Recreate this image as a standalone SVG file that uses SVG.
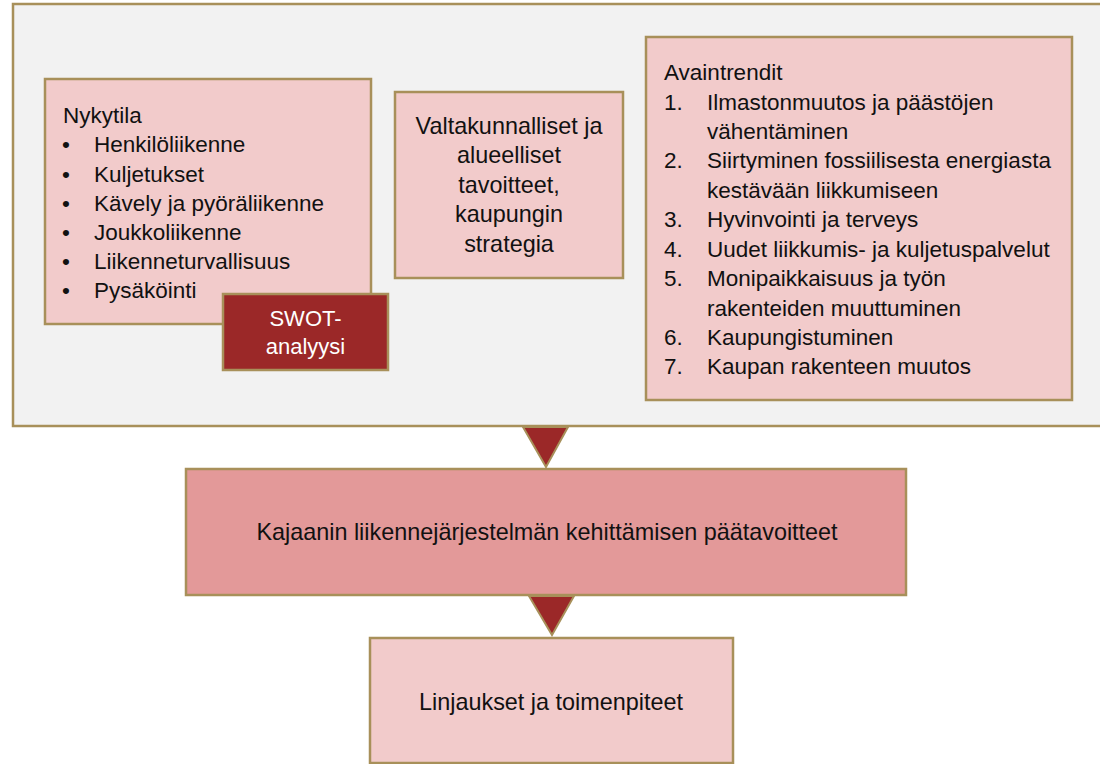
<svg xmlns="http://www.w3.org/2000/svg" width="1100" height="764" viewBox="0 0 1100 764">
<style>
.box{fill:#f2cbcb;stroke:#a8905a;stroke-width:2.5}
.t{font-family:"Liberation Sans",Arial,sans-serif;font-size:22.5px;fill:#111}
.l{font-size:23.4px}
.c{text-anchor:middle}
.w{fill:#ffffff;font-size:22px}
.tri{fill:#9b2828;stroke:#a8905a;stroke-width:2}
</style>
<rect width="1100" height="764" fill="#ffffff"/>
<g id="outer">
<rect x="13" y="4" width="1100" height="422" fill="#f2f2f2" stroke="#a8905a" stroke-width="2.5"/>
</g>
<g id="nykytila">
<rect class="box" x="45" y="79" width="326" height="245"/>
<text class="t" x="63" y="123">Nykytila</text>
<g class="t">
<text x="62" y="152">•</text><text class="t" x="94" y="152">Henkilöliikenne</text>
<text x="62" y="182">•</text><text class="t" x="94" y="182">Kuljetukset</text>
<text x="62" y="211">•</text><text class="t" x="94" y="211">Kävely ja pyöräliikenne</text>
<text x="62" y="240">•</text><text class="t" x="94" y="240">Joukkoliikenne</text>
<text x="62" y="269">•</text><text class="t" x="94" y="269">Liikenneturvallisuus</text>
<text x="62" y="298">•</text><text class="t" x="94" y="298">Pysäköinti</text>
</g>
</g>
<g id="swot">
<rect x="223" y="294" width="165" height="76" fill="#9b2828" stroke="#a8905a" stroke-width="2.5"/>
<text class="t c w" x="305.5" y="326">SWOT-</text>
<text class="t c w" x="305.5" y="354">analyysi</text>
</g>
<g id="tavoitteet">
<rect class="box" x="395" y="92" width="228" height="186"/>
<text class="t l c" x="509" y="134">Valtakunnalliset ja</text>
<text class="t l c" x="509" y="163">alueelliset</text>
<text class="t l c" x="509" y="193">tavoitteet,</text>
<text class="t l c" x="509" y="222">kaupungin</text>
<text class="t l c" x="509" y="252">strategia</text>
</g>
<g id="avaintrendit">
<rect class="box" x="646" y="37" width="426" height="363"/>
<text class="t" x="664" y="80">Avaintrendit</text>
<text class="t" x="664" y="110">1.</text><text class="t" x="707" y="110">Ilmastonmuutos ja päästöjen</text>
<text class="t" x="707" y="139">vähentäminen</text>
<text class="t" x="664" y="168">2.</text><text class="t" x="707" y="168">Siirtyminen fossiilisesta energiasta</text>
<text class="t" x="707" y="198">kestävään liikkumiseen</text>
<text class="t" x="664" y="227">3.</text><text class="t" x="707" y="227">Hyvinvointi ja terveys</text>
<text class="t" x="664" y="257">4.</text><text class="t" x="707" y="257">Uudet liikkumis- ja kuljetuspalvelut</text>
<text class="t" x="664" y="286">5.</text><text class="t" x="707" y="286">Monipaikkaisuus ja työn</text>
<text class="t" x="707" y="316">rakenteiden muuttuminen</text>
<text class="t" x="664" y="345">6.</text><text class="t" x="707" y="345">Kaupungistuminen</text>
<text class="t" x="664" y="374">7.</text><text class="t" x="707" y="374">Kaupan rakenteen muutos</text>
</g>
<g id="paatavoitteet">
<rect x="186" y="469" width="720" height="126" fill="#e39999" stroke="#a8905a" stroke-width="2.5"/>
<text class="t l c" x="547" y="540">Kajaanin liikennejärjestelmän kehittämisen päätavoitteet</text>
</g>
<g id="linjaukset">
<rect class="box" x="370" y="638" width="363" height="125"/>
<text class="t l c" x="551" y="710">Linjaukset ja toimenpiteet</text>
</g>
<g id="connectors">
<polygon class="tri" points="523,427 568,427 546,467"/>
<polygon class="tri" points="529,596 574,596 552,635"/>
</g>
</svg>
